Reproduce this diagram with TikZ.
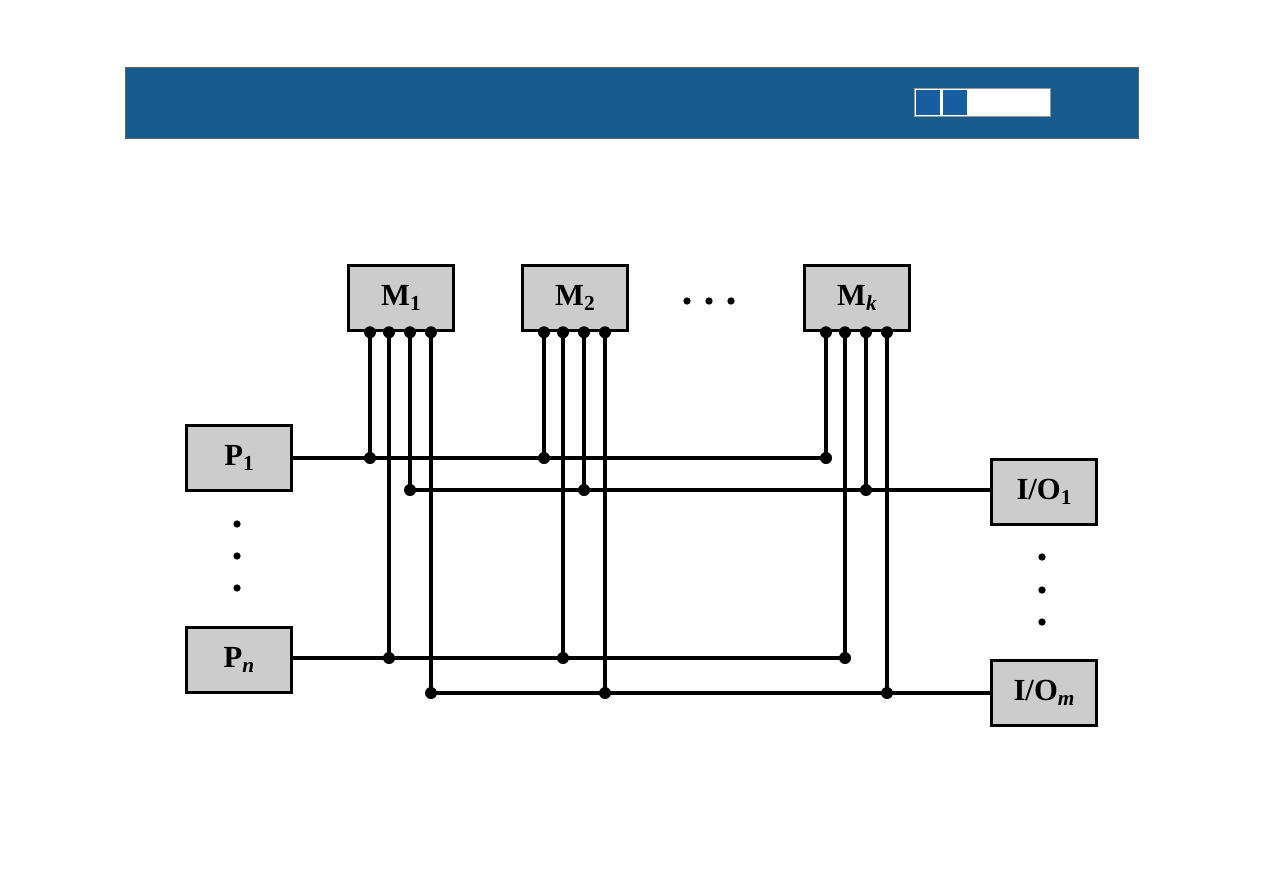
\documentclass[tikz,border=0pt]{standalone}
\usepackage{fontspec}
\setmainfont{Liberation Serif}
\definecolor{headerblue}{RGB}{21,91,140}
\definecolor{sqblue}{RGB}{22,94,160}
\definecolor{boxgray}{RGB}{204,204,204}
\newcommand\lsub[1]{\raisebox{-0.4ex}{\fontsize{16}{16}\selectfont #1}}
\begin{document}
\begin{tikzpicture}[x=0.75pt,y=-0.75pt,
  box/.style={draw=black, line width=2.4pt, fill=boxgray, minimum width=79pt, minimum height=49pt, inner sep=0pt, font=\fontsize{23}{24}\selectfont\bfseries},
  wire/.style={line width=2.3pt},
  dot/.style={circle, fill=black, inner sep=0pt, minimum size=9pt},
  sdot/.style={circle, fill=black, inner sep=0pt, minimum size=5.5pt}]
\useasboundingbox (0,0) rectangle (1263,893);
% header
\fill[headerblue] (125,67) rectangle (1138,138);
\draw[black!60, line width=0.5pt] (125,67) rectangle (1138,138);
\filldraw[fill=white, draw=black!40, line width=0.4pt] (914,88) rectangle (1050,116);
\fill[sqblue] (916,90) rectangle (940,115);
\fill[sqblue] (943,90) rectangle (967,115);
% boxes
\node[box] (M1) at (401,298) {M\lsub{1}};
\node[box] (M2) at (575,298) {M\lsub{2}};
\node[box] (Mk) at (857,298) {M\lsub{\itshape k}};
\node[box] (P1) at (239,458) {P\lsub{1}};
\node[box] (Pn) at (239,660) {P\lsub{\itshape n}};
\node[box] (IO1) at (1044,492) {I/O\lsub{1}};
\node[box] (IOm) at (1044,693) {I/O\lsub{\itshape m}};
% ellipses
\node[sdot] (e1) at (687,301) {};
\node[sdot] (e2) at (709,301) {};
\node[sdot] (e3) at (731,301) {};
\node[sdot] (p1) at (237,524) {};
\node[sdot] (p2) at (237,556) {};
\node[sdot] (p3) at (237,588) {};
\node[sdot] (i1) at (1042,557) {};
\node[sdot] (i2) at (1042,590) {};
\node[sdot] (i3) at (1042,622) {};
% taps
\foreach \m in {M1,M2,Mk}{
  \coordinate (\m-1) at ([xshift=-23.25pt]\m.south);
  \coordinate (\m-2) at ([xshift=-9pt]\m.south);
  \coordinate (\m-3) at ([xshift=6.75pt]\m.south);
  \coordinate (\m-4) at ([xshift=22.5pt]\m.south);
}
% buses
\coordinate (bP1) at ([yshift=0pt]P1.east);
\coordinate (bPn) at ([yshift=1.5pt]Pn.east);
\coordinate (bIO1) at ([yshift=1.5pt]IO1.west);
\coordinate (bIOm) at (IOm.west);
\draw[wire] (bP1) -- (Mk-1 |- bP1);
\draw[wire] (bPn) -- (Mk-2 |- bPn);
\draw[wire] (bIO1) -- (M1-3 |- bIO1);
\draw[wire] (bIOm) -- (M1-4 |- bIOm);
\foreach \m in {M1,M2,Mk}{
  \draw[wire] (\m-1) -- (\m-1 |- bP1) node[dot]{};
  \draw[wire] (\m-2) -- (\m-2 |- bPn) node[dot]{};
  \draw[wire] (\m-3) -- (\m-3 |- bIO1) node[dot]{};
  \draw[wire] (\m-4) -- (\m-4 |- bIOm) node[dot]{};
  \foreach \i in {1,2,3,4}{\node[dot] at (\m-\i) {};}
}
\end{tikzpicture}
\end{document}
